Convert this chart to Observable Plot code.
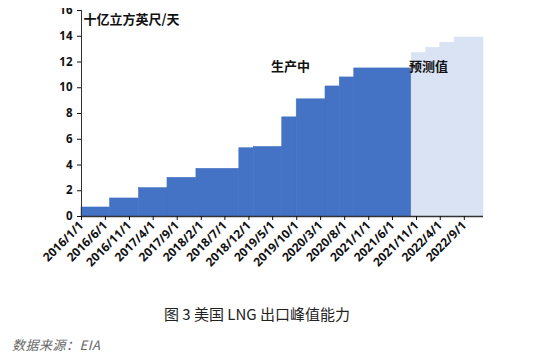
<!DOCTYPE html>
<html><head><meta charset="utf-8">
<script src="https://cdn.jsdelivr.net/npm/d3@7"></script>
<script src="https://cdn.jsdelivr.net/npm/@observablehq/plot@0.6"></script>
<style>
body{margin:0;background:#fff;width:550px;height:357px;position:relative;overflow:hidden;font-family:"Noto Sans CJK SC","Noto Sans",sans-serif;}
#wrap{position:absolute;left:0;top:8px;width:550px;height:275px;overflow:hidden;}
#cap{position:absolute;left:0;width:514px;top:303px;text-align:center;font-size:15px;color:#222;font-family:"Noto Sans CJK SC",sans-serif;}
#src{position:absolute;left:12px;top:335px;font-size:13px;color:#666;font-style:italic;font-family:"Noto Sans CJK SC",serif;letter-spacing:0.5px;}
</style></head>
<body>
<div id="wrap"></div>
<div id="cap">图 3 美国 LNG 出口峰值能力</div>
<div id="src">数据来源：EIA</div>
<script>
// actual capacity steps (start month, end month, value, Bcf/d)
const actualStart = ["2016-01","2016-07","2017-01","2017-07","2018-01","2018-10","2019-01","2019-07","2019-10","2020-04","2020-07","2020-10"];
const actualEnd   = ["2016-07","2017-01","2017-07","2018-01","2018-10","2019-01","2019-07","2019-10","2020-04","2020-07","2020-10","2021-10"];
const actualValue = [0.7, 1.4, 2.2, 3.0, 3.7, 5.3, 5.4, 7.7, 9.1, 10.1, 10.8, 11.5];
// forecast steps
const forecastStart = ["2021-10","2022-01","2022-04","2022-07"];
const forecastEnd   = ["2022-01","2022-04","2022-07","2023-01"];
const forecastValue = [12.7, 13.1, 13.5, 13.9];
// axis ticks
const xTickLabels = ["2016/1/1","2016/6/1","2016/11/1","2017/4/1","2017/9/1","2018/2/1","2018/7/1","2018/12/1","2019/5/1","2019/10/1","2020/3/1","2020/8/1","2021/1/1","2021/6/1","2021/11/1","2022/4/1","2022/9/1"];
const yTicks = [0,2,4,6,8,10,12,14,16];
const unitLabel = "十亿立方英尺/天";
const labelActual = "生产中";
const labelForecast = "预测值";

const parseM = d3.utcParse("%Y-%m");
const parseD = d3.utcParse("%Y/%m/%d");
const actual = actualStart.map((s,i)=>({x1:parseM(s),x2:parseM(actualEnd[i]),y:actualValue[i]}));
const forecast = forecastStart.map((s,i)=>({x1:parseM(s),x2:parseM(forecastEnd[i]),y:forecastValue[i]}));
const xTicks = xTickLabels.map(s=>parseD(s));
const fmt = d=>`${d.getUTCFullYear()}/${d.getUTCMonth()+1}/${d.getUTCDate()}`;

const chart = Plot.plot({
  width:550, height:275,
  marginLeft:81, marginRight:67, marginTop:2, marginBottom:67,
  style:{fontFamily:"'Open Sans','Noto Sans CJK SC',sans-serif", overflow:"visible"},
  x:{type:"utc", domain:[parseM("2016-01"), parseM("2023-01")]},
  y:{domain:[0,16]},
  marks:[
    Plot.rectY(actual,{x1:"x1",x2:"x2",y:"y",fill:"#4472C4",stroke:"#4472C4",strokeWidth:0.6,inset:0}),
    Plot.rectY(forecast,{x1:"x1",x2:"x2",y:"y",fill:"#DAE3F3",stroke:"#DAE3F3",strokeWidth:0.6,inset:0}),
    Plot.ruleX([parseM("2016-01")],{stroke:"#333",strokeWidth:1}),
    Plot.ruleY([0],{stroke:"#333",strokeWidth:1.5}),
    Plot.axisY({ticks:yTicks, tickSize:4, tickPadding:5, fontSize:11.5, fontWeight:"bold", color:"#111", label:null}),
    Plot.axisX({ticks:xTicks, tickFormat:fmt, tickSize:4, tickPadding:3, tickRotate:-45, fontSize:12, fontWeight:"bold", color:"#111", label:null}),
    Plot.text([unitLabel],{frameAnchor:"top-left", dx:2, dy:4, text:d=>d, fontSize:13, fontWeight:"bold", fill:"#111", fontFamily:"'Noto Sans CJK SC',sans-serif"}),
    Plot.text([{x:parseM("2019-04"),y:11.6,t:labelActual}],{x:"x",y:"y",text:"t",textAnchor:"start",dx:3,fontSize:13,fontWeight:"bold",fill:"#111",fontFamily:"'Noto Sans CJK SC',sans-serif"}),
    Plot.text([{x:parseM("2021-09"),y:11.6,t:labelForecast}],{x:"x",y:"y",text:"t",textAnchor:"start",dx:2,fontSize:13,fontWeight:"bold",fill:"#111",fontFamily:"'Noto Sans CJK SC',sans-serif"})
  ]
});
document.getElementById("wrap").appendChild(chart);
</script>
</body></html>
